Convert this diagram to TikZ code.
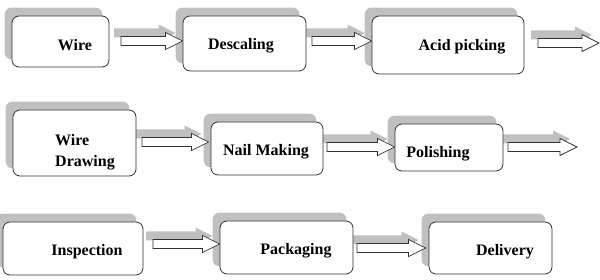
\documentclass[tikz,border=0pt]{standalone}
\usepackage{fontspec}
\setmainfont{Liberation Serif}
\newfontfamily\lblfont{Liberation Serif}[UprightFont={* Bold}]
\usetikzlibrary{calc}
\pgfdeclarelayer{bg}
\pgfsetlayers{bg,main}
\definecolor{shadowgray}{RGB}{192,192,192}
\definecolor{edge}{RGB}{50,50,50}
\tikzset{
  stepbox/.style={draw=edge, fill=white, line width=0.8pt, rounded corners=7pt, inner sep=0pt},
  lbl/.style={font=\lblfont\fontsize{16}{21}\selectfont, inner sep=0pt},
  arrowbody/.style={fill=white, draw=edge, line width=0.75pt, line join=miter},
}
% box: name, x1, y1, x2, y2 (pixels, y down)
\newcommand\mkbox[5]{%
  \node[stepbox, minimum width={(#4-#2)*1pt}, minimum height={(#5-#3)*1pt}] (#1) at ({(#2+#4)/2},{(#3+#5)/2}) {};
  \begin{pgfonlayer}{bg}
    \fill[shadowgray, rounded corners=7pt] ([shift={(-7pt,8pt)}]#1.south west) rectangle ([shift={(-7pt,8pt)}]#1.north east);
  \end{pgfonlayer}
}
% block arrow from coordinate #1 to #2 (horizontal, y of #1)
\newcommand\blockarrow[2]{%
  \begin{pgfonlayer}{bg}
    \fill[shadowgray] let \p1=(#1), \p2=(#2) in
      ({\x1-7pt},{\y1+12.5pt}) -- ({\x2-24pt},{\y1+12.5pt}) -- ({\x2-24pt},{\y1+16.5pt}) --
      ({\x2-7pt},{\y1+8pt}) -- ({\x2-24pt},{\y1-0.5pt}) -- ({\x2-24pt},{\y1+3.5pt}) --
      ({\x1-7pt},{\y1+3.5pt}) -- cycle;
  \end{pgfonlayer}
  \filldraw[arrowbody] let \p1=(#1), \p2=(#2) in
      (\x1,{\y1+4.5pt}) -- ({\x2-17pt},{\y1+4.5pt}) -- ({\x2-17pt},{\y1+8.5pt}) --
      (\x2,\y1) -- ({\x2-17pt},{\y1-8.5pt}) -- ({\x2-17pt},{\y1-4.5pt}) --
      (\x1,{\y1-4.5pt}) -- cycle;
}
\begin{document}
\begin{tikzpicture}[x=1pt,y=-1pt]
\useasboundingbox (0,0) rectangle (600,280);
% boxes
\mkbox{wire}{12}{16}{109}{67}
\mkbox{desc}{183}{16}{306}{71}
\mkbox{acid}{372}{16}{524}{74}
\mkbox{wd}{13}{110}{136}{176}
\mkbox{nail}{211}{122}{323}{175}
\mkbox{pol}{395}{124}{503}{171}
\mkbox{insp}{3}{222}{143}{275}
\mkbox{pack}{220}{221}{353}{274}
\mkbox{deliv}{429}{222}{552}{274}
% labels
\node[lbl] (twire) at (75,45) {Wire};
\node[lbl] (tdesc) at (241,46) {Descaling};
\node[lbl] (tacid) at (462,47) {Acid picking};
\node[lbl, align=left, anchor=west] (twd) at (55,152) {Wire\\Drawing};
\node[lbl] (tnail) at (266,152) {Nail Making};
\node[lbl] (tpol) at (438,154) {Polishing};
\node[lbl] (tinsp) at (87,252) {Inspection};
\node[lbl] (tpack) at (296,251) {Packaging};
\node[lbl] (tdeliv) at (505,252) {Delivery};
% arrow coordinates
\coordinate (a1s) at (121,41);
\coordinate (a2s) at (312,41);
\coordinate (a3s) at (538,43);
\coordinate (a3e) at (599,43);
\coordinate (a4s) at (142,142);
\coordinate (a5s) at (327,147);
\coordinate (a6s) at (508,147);
\coordinate (a6e) at (577,147);
\coordinate (a7s) at (153,244);
\coordinate (a8s) at (357,248);
% arrows
\blockarrow{a1s}{desc.west}
\blockarrow{a2s}{acid.west}
\blockarrow{a3s}{a3e}
\blockarrow{a4s}{$(nail.west)+(-2pt,0)$}
\blockarrow{a5s}{pol.west}
\blockarrow{a6s}{a6e}
\blockarrow{a7s}{pack.west}
\blockarrow{a8s}{$(deliv.west)+(-3pt,0)$}
\end{tikzpicture}
\end{document}
